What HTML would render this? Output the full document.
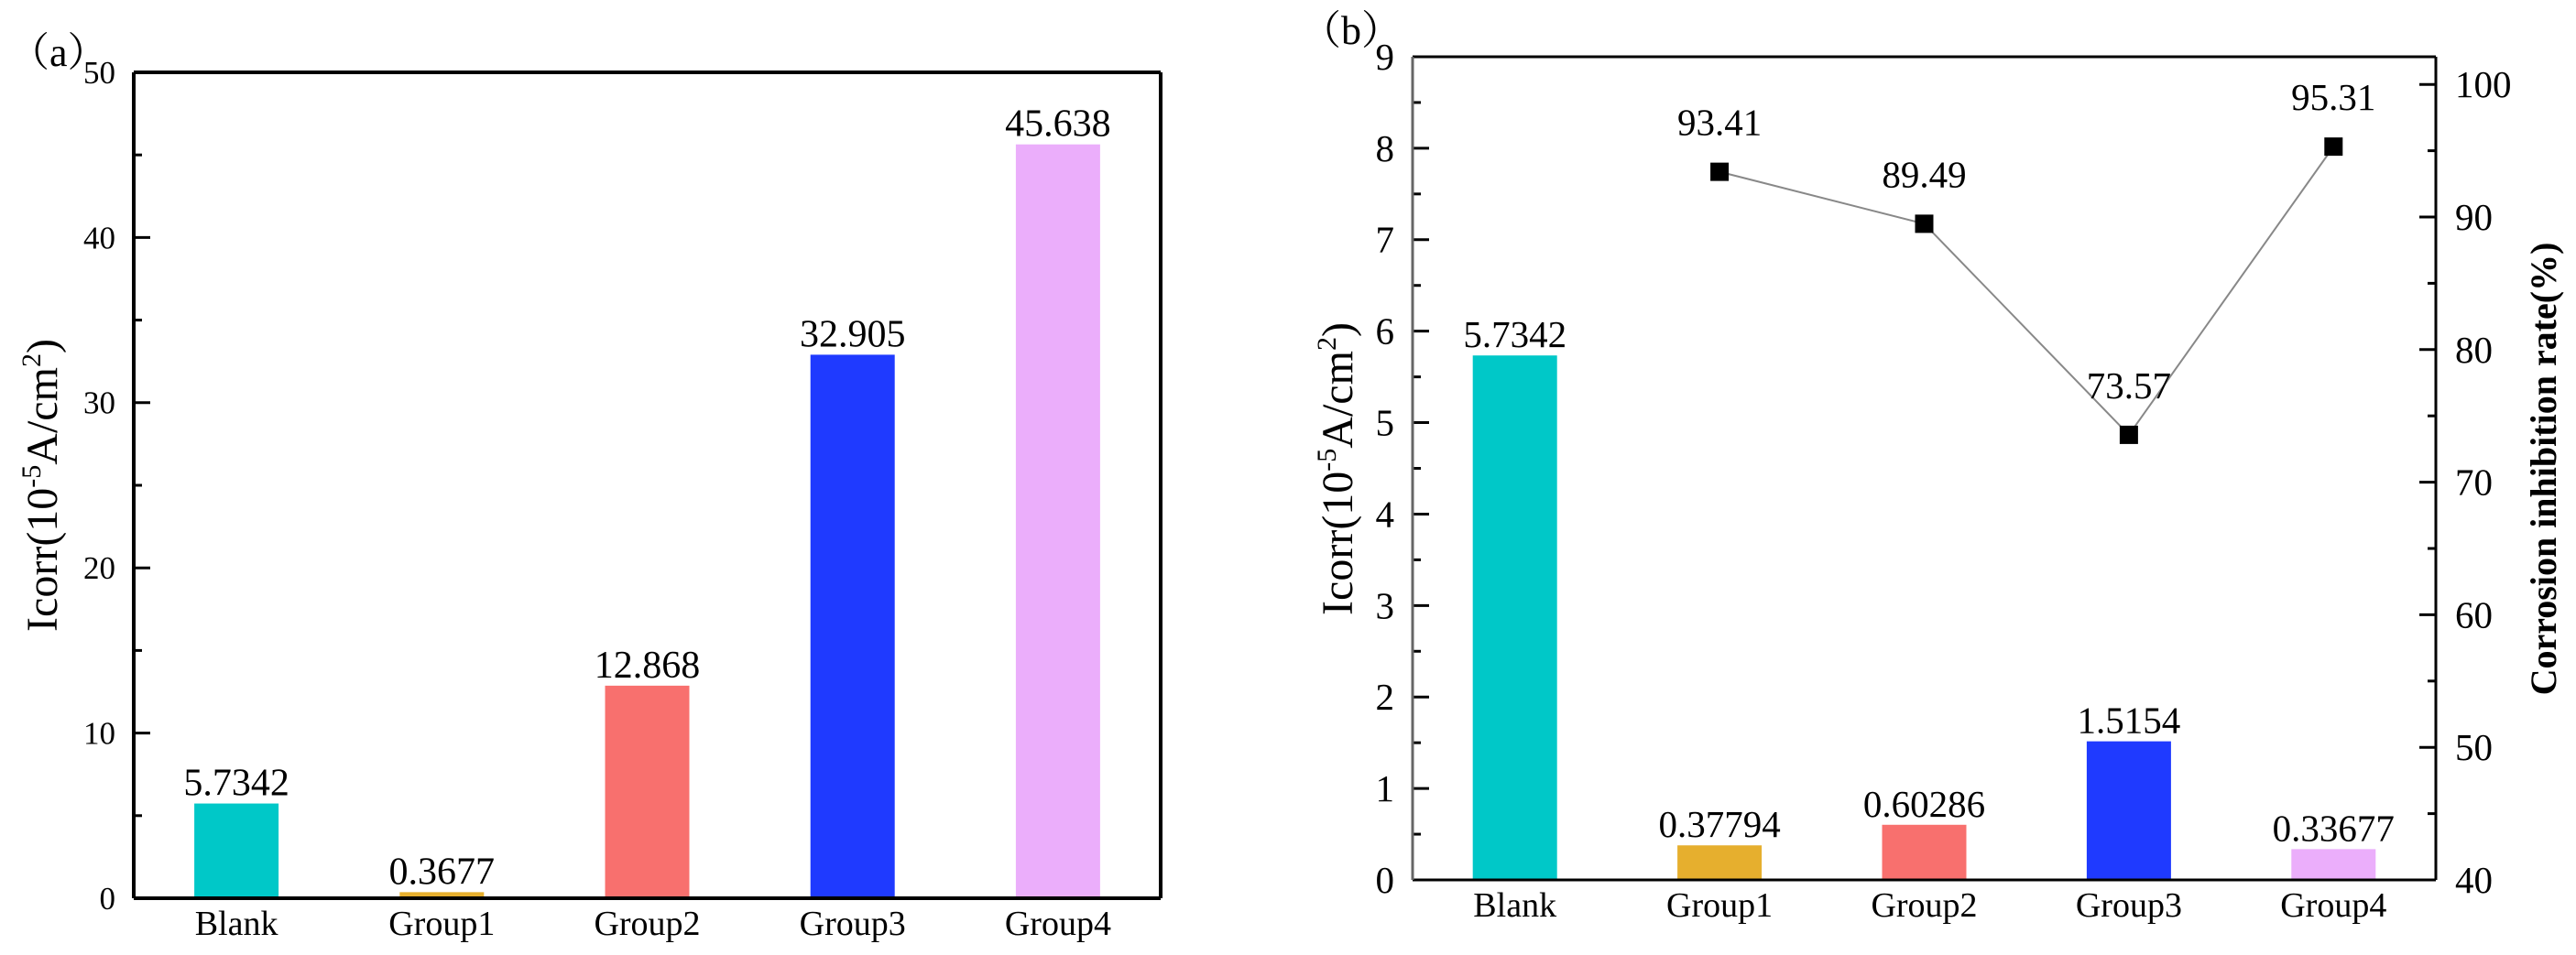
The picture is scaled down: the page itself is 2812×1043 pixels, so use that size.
<!DOCTYPE html>
<html><head><meta charset="utf-8"><style>
html,body{margin:0;padding:0;background:#fff;}
svg{display:block;}
svg text{font-family:"Liberation Serif","Times New Roman","Noto Serif CJK SC",serif;}
</style></head><body>
<svg id="chart" width="2812" height="1043" viewBox="0 0 2812 1043" xmlns="http://www.w3.org/2000/svg" font-family="Liberation Serif, Noto Serif CJK SC, serif">
<g id="pa"></g>
<g id="pb"></g>
</svg>
<script>
const categories = ["Blank","Group1","Group2","Group3","Group4"];
const colors = ["#00C8C8","#E6AF2E","#F8706E","#1F3AFF","#EBAEFB"];
const valuesA = [5.7342,0.3677,12.868,32.905,45.638];
const labelsA = ["5.7342","0.3677","12.868","32.905","45.638"];
const ticksA = [0,10,20,30,40,50];
const valuesB = [5.7342,0.37794,0.60286,1.5154,0.33677];
const labelsB = ["5.7342","0.37794","0.60286","1.5154","0.33677"];
const ticksB = [0,1,2,3,4,5,6,7,8,9];
const rateCats = ["Group1","Group2","Group3","Group4"];
const rateVals = [93.41,89.49,73.57,95.31];
const rateLabels = ["93.41","89.49","73.57","95.31"];
const ticksR = [40,50,60,70,80,90,100];

const NS="http://www.w3.org/2000/svg";
const FF="Liberation Serif, Noto Serif CJK SC, serif";
function mk(parent,tag,attrs,text){const e=document.createElementNS(NS,tag);for(const k in attrs)e.setAttribute(k,attrs[k]);if(tag==="text")e.setAttribute("font-family",FF);if(text!==undefined)e.textContent=text;parent.appendChild(e);return e;}

function panel(g,o){
  const band=(o.x1-o.x0)/categories.length;
  const xC=i=>o.x0+band*(i+0.5);
  const y=v=>o.yb-(v-o.vmin)/(o.vmax-o.vmin)*(o.yb-o.yt);
  const bw=92;
  o.vals.forEach((v,i)=>{
    const r=mk(g,"rect",{x:xC(i)-bw/2,y:y(v),width:bw,height:o.yb-y(v),fill:colors[i]});
    
    
    const t=mk(g,"text",{x:xC(i),y:y(v)-9,"text-anchor":"middle","font-size":o.vfs},o.labels[i]);
    
    
    const c=mk(g,"text",{x:xC(i),y:o.yb+40,"text-anchor":"middle","font-size":38},categories[i]);
    
    
  });
  const step=o.ticks[1]-o.ticks[0];
  o.ticks.forEach((v,k)=>{
    mk(g,"line",{x1:o.x0,x2:o.x0+18,y1:y(v),y2:y(v),stroke:"#000","stroke-width":3});
    if(k<o.ticks.length-1){const m=v+step/2;mk(g,"line",{x1:o.x0,x2:o.x0+9,y1:y(m),y2:y(m),stroke:"#000","stroke-width":3});}
    const t=mk(g,"text",{x:o.x0-20,y:y(v)+o.tfs*0.34,"text-anchor":"end","font-size":o.tfs},String(v));
    
    
  });
  mk(g,"line",{x1:o.x0,x2:o.x1,y1:o.yt,y2:o.yt,stroke:"#000","stroke-width":o.aw});
  mk(g,"line",{x1:o.x0,x2:o.x1,y1:o.yb,y2:o.yb,stroke:"#000","stroke-width":o.aw});
  mk(g,"line",{x1:o.x0,x2:o.x0,y1:o.yt,y2:o.yb,stroke:o.lc,"stroke-width":o.aw});
  mk(g,"line",{x1:o.x1,x2:o.x1,y1:o.yt,y2:o.yb,stroke:"#000","stroke-width":o.aw});
  const yl=mk(g,"text",{x:0,y:0,"text-anchor":"middle","font-size":48,transform:`translate(${o.ylx},${o.yly}) rotate(-90)`});
  
  
  mk(yl,"tspan",{},"Icorr(10");
  mk(yl,"tspan",{"font-size":30,dy:-18},"-5");
  mk(yl,"tspan",{dy:18},"A/cm");
  mk(yl,"tspan",{"font-size":30,dy:-18},"2");
  mk(yl,"tspan",{dy:18},")");
  const pl=mk(g,"text",{x:o.plx,y:o.ply,"font-size":44},o.plabel);
  
  
  return {xC,y};
}

const A=panel(document.getElementById('pa'),{x0:146,x1:1267,yt:79,yb:981,vmin:0,vmax:50,vals:valuesA,labels:labelsA,ticks:ticksA,tfs:35,vfs:42,aw:4,lc:"#000",ylx:62,yly:530,plx:10,ply:72,plabel:"（a）"});
const gb=document.getElementById('pb');
const B=panel(gb,{x0:1542,x1:2659,yt:62,yb:961,vmin:0,vmax:9,vals:valuesB,labels:labelsB,ticks:ticksB,tfs:41,vfs:41,aw:3,lc:"#666",ylx:1476,yly:512,plx:1420,ply:48,plabel:"（b）"});

const yR=v=>961-(v-40)*14.48;
ticksR.forEach((v,k)=>{
  mk(gb,"line",{x1:2659,x2:2641,y1:yR(v),y2:yR(v),stroke:"#000","stroke-width":3});
  if(k<ticksR.length-1){mk(gb,"line",{x1:2659,x2:2650,y1:yR(v+5),y2:yR(v+5),stroke:"#000","stroke-width":3});}
  const t=mk(gb,"text",{x:2680,y:yR(v)+14,"font-size":41},String(v));
  
  
});
const rl=mk(gb,"text",{x:0,y:0,"text-anchor":"middle","font-size":40,"font-weight":"bold",transform:"translate(2790,512) rotate(-90)"},"Corrosion inhibition rate(%)");



const pts=rateVals.map((v,i)=>[B.xC(categories.indexOf(rateCats[i])),yR(v)]);
const pl=mk(gb,"polyline",{points:pts.map(p=>p.join(",")).join(" "),fill:"none",stroke:"#888","stroke-width":2});


pts.forEach((p,i)=>{
  const r=mk(gb,"rect",{x:p[0]-10,y:p[1]-10,width:20,height:20,fill:"#000"});
  
  
  const t=mk(gb,"text",{x:p[0],y:p[1]-40,"text-anchor":"middle","font-size":41},rateLabels[i]);
  
  
});
</script>
</body></html>
